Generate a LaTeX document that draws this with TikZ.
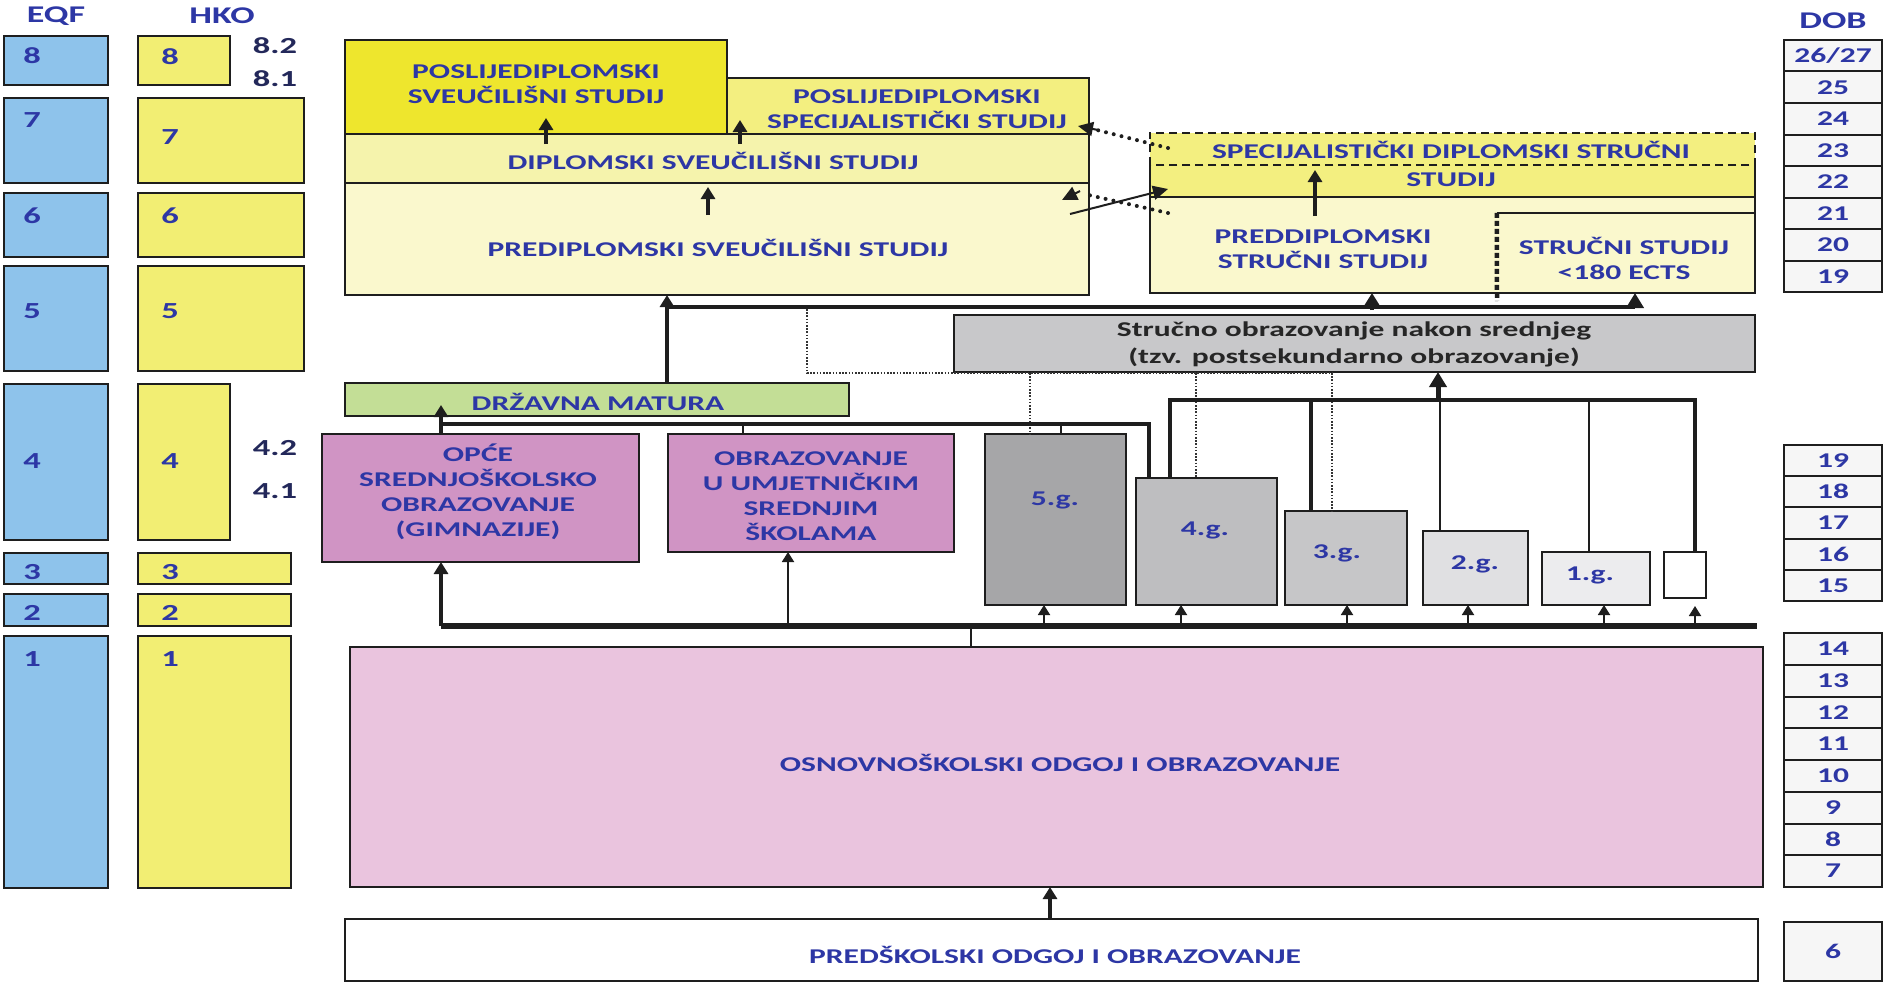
\documentclass[tikz,border=0pt]{standalone}
\usepackage{fontspec}
\setmainfont{Carlito}[FakeStretch=1.5]
\usetikzlibrary{arrows.meta,fit}
\definecolor{tblue}{RGB}{45,55,165}
\definecolor{eqfblue}{RGB}{142,195,235}
\definecolor{hkoy}{RGB}{242,238,115}
\definecolor{ybright}{RGB}{238,230,45}
\definecolor{ymid}{RGB}{243,239,128}
\definecolor{ylight}{RGB}{245,243,172}
\definecolor{ypale}{RGB}{250,248,205}
\definecolor{gbox}{RGB}{200,200,202}
\definecolor{dmgreen}{RGB}{195,222,150}
\definecolor{pinkd}{RGB}{208,148,196}
\definecolor{pinkl}{RGB}{234,196,222}
\definecolor{gfive}{RGB}{166,166,168}
\definecolor{gfour}{RGB}{190,190,192}
\definecolor{gthree}{RGB}{198,198,200}
\definecolor{gtwo}{RGB}{224,224,226}
\definecolor{gone}{RGB}{236,236,238}
\definecolor{dobf}{RGB}{246,246,246}
\definecolor{navy}{RGB}{35,40,90}
\definecolor{ln}{RGB}{30,30,30}
\newcommand\mybox[6][]{\node[box,#1,fit={(#3,#4)(#5,#6)}] (#2) {};}
\begin{document}
\begin{tikzpicture}[x=1pt,y=-1pt,
 box/.style={draw=ln, line width=2pt, inner sep=0pt, outer sep=0pt},
 tx/.style={font=\fontsize{21}{25}\selectfont\bfseries, text=tblue, align=center, inner sep=0pt},
 gtx/.style={font=\fontsize{21}{27}\selectfont\bfseries, text=black!85, align=center, inner sep=0pt},
 num/.style={font=\fontsize{23}{26}\selectfont\bfseries, text=tblue, inner sep=0pt},
 sidelab/.style={font=\fontsize{23}{26}\selectfont\bfseries, text=navy, inner sep=0pt},
 thk/.style={draw=ln, line width=3.5pt},
 thn/.style={draw=ln, line width=1.8pt},
 busln/.style={draw=ln, line width=6pt},
 atip/.style={-{Triangle[length=12pt,width=14pt]}},
 stip/.style={-{Triangle[length=10pt,width=12pt]}},
 btip/.style={-{Triangle[length=15pt,width=17pt]}},
 fdot/.style={draw=black!80, line width=2.4pt, dash pattern=on 1.6pt off 1.6pt},
 rdot/.style={draw=ln, line width=4pt, line cap=round, dash pattern=on 0pt off 8pt},
]
\useasboundingbox (0,0) rectangle (1885,982);
\fill[white] (0,0) rectangle (1885,982);

% ---------- EQF / HKO columns ----------
\node[tx,font=\fontsize{24}{26}\selectfont\bfseries] (heqf) at (56,16) {EQF};
\node[tx,font=\fontsize{24}{26}\selectfont\bfseries] (hhko) at (222,16) {HKO};
\node[tx,font=\fontsize{24}{26}\selectfont\bfseries] (hdob) at (1833,21) {DOB};

\mybox[fill=eqfblue]{e8}{4}{36}{108}{85}
\mybox[fill=eqfblue]{e7}{4}{98}{108}{183}
\mybox[fill=eqfblue]{e6}{4}{193}{108}{257}
\mybox[fill=eqfblue]{e5}{4}{266}{108}{371}
\mybox[fill=eqfblue]{e4}{4}{384}{108}{540}
\mybox[fill=eqfblue]{e3}{4}{553}{108}{584}
\mybox[fill=eqfblue]{e2}{4}{594}{108}{626}
\mybox[fill=eqfblue]{e1}{4}{636}{108}{888}
\mybox[fill=hkoy]{h8}{138}{36}{230}{85}
\mybox[fill=hkoy]{h7}{138}{98}{304}{183}
\mybox[fill=hkoy]{h6}{138}{193}{304}{257}
\mybox[fill=hkoy]{h5}{138}{266}{304}{371}
\mybox[fill=hkoy]{h4}{138}{384}{230}{540}
\mybox[fill=hkoy]{h3}{138}{553}{291}{584}
\mybox[fill=hkoy]{h2}{138}{594}{291}{626}
\mybox[fill=hkoy]{h1}{138}{636}{291}{888}
\foreach \n/\yy in {8/56,7/120,6/216,5/311,4/461,3/572,2/613,1/659}
  \node[num] (le\n) at (32,\yy) {\n};
\foreach \n/\yy in {8/57,7/137,6/216,5/311,4/461,3/572,2/613,1/659}
  \node[num] (lh\n) at (170,\yy) {\n};
\node[sidelab] (s82) at (275,46) {8.2};
\node[sidelab] (s81) at (275,79) {8.1};
\node[sidelab] (s42) at (275,448) {4.2};
\node[sidelab] (s41) at (275,491) {4.1};

% ---------- DOB column ----------
\foreach \dl [count=\i from 0] in {{26/27},25,24,23,22,21,20,19}
  \node[box,fill=dobf,minimum width=98pt,minimum height=31.5pt,anchor=north west,tx] (da\i) at (1784,40+31.5*\i) {\dl};
\foreach \dl [count=\i from 0] in {19,18,17,16,15}
  \node[box,fill=dobf,minimum width=98pt,minimum height=31.2pt,anchor=north west,tx] (db\i) at (1784,445+31.2*\i) {\dl};
\foreach \dl [count=\i from 0] in {14,13,12,11,10,9,8,7}
  \node[box,fill=dobf,minimum width=98pt,minimum height=31.75pt,anchor=north west,tx] (dc\i) at (1784,633+31.75*\i) {\dl};
\node[box,fill=dobf,minimum width=98pt,minimum height=59pt,anchor=north west,tx] (dd0) at (1784,922) {6};

% ---------- university block ----------
\mybox[fill=ybright]{psu}{345}{40}{727}{134}
\mybox[fill=ymid]{pss}{727}{78}{1089}{134}
\mybox[fill=ylight]{dss}{345}{134}{1089}{183}
\mybox[fill=ypale]{pres}{345}{183}{1089}{295}
\node[tx] (tpsu) at (536,84) {POSLIJEDIPLOMSKI\\SVEUČILIŠNI STUDIJ};
\node[tx] (tpss) at (917,109) {POSLIJEDIPLOMSKI\\SPECIJALISTIČKI STUDIJ};
\node[tx] (tdss) at (713,161) {DIPLOMSKI SVEUČILIŠNI STUDIJ};
\node[tx] (tpres) at (718,248) {PREDIPLOMSKI SVEUČILIŠNI STUDIJ};
\draw[thk,atip] (546,144) -- (546,118);
\draw[thk,atip] (740,144) -- (740,120);
\draw[thk,atip] (708,215) -- (708,187);

% ---------- professional block ----------
\node[fit={(1150,133)(1755,165)},inner sep=0pt,fill=ymid] (sdsu) {};
\node[fit={(1150,165)(1755,197)},inner sep=0pt,fill=ymid] (sdsl) {};
\draw[draw=ln,line width=2pt,dash pattern=on 8pt off 5pt] (sdsu.south west) rectangle (sdsu.north east);
\draw[draw=ln,line width=2pt] (sdsl.north west) -- (sdsl.south west) -- (sdsl.south east) -- (sdsl.north east);
\mybox[fill=ypale]{pst}{1150}{197}{1755}{293}
\node[fit={(1497,213)(1755,293)},inner sep=0pt] (ss) {};
\draw[draw=ln,line width=2pt] (ss.north west) -- (ss.north east);
\coordinate (ssb) at (1497,301);
\draw[draw=ln,line width=4.5pt,dash pattern=on 5pt off 3pt] (ss.north west) -- (ssb);
\node[tx] (tsds) at (1451,150) {SPECIJALISTIČKI DIPLOMSKI STRUČNI};
\node[tx] (tsdl) at (1451,180) {STUDIJ};
\node[tx] (tpst) at (1323,249) {PREDDIPLOMSKI\\STRUČNI STUDIJ};
\node[tx] (tss) at (1624,258) {STRUČNI STUDIJ\\<180 ECTS};
\draw[thk,atip] (1315,216) -- (1315,170);

% cross links
\draw[rdot] (1168,148) -- (1097,130);
\draw[draw=ln,line width=2pt,-{Triangle[length=15pt,width=14pt]}] (1098,130) -- (1078,126);
\draw[rdot] (1168,213) -- (1084,194);
\draw[draw=ln,line width=2pt,-{Triangle[length=15pt,width=14pt]}] (1080,191) -- (1062,200);
\draw[draw=ln,line width=2pt,-{Triangle[length=15pt,width=14pt]}] (1070,214) -- (1168,189);

% ---------- post-secondary grey box ----------
\mybox[fill=gbox]{gs}{954}{315}{1755}{372}
\node[gtx] (tgs) at (1354,344) {Stručno obrazovanje nakon srednjeg\\(tzv. postsekundarno obrazovanje)};

% ---------- top bus ----------
\mybox[fill=dmgreen]{dm}{345}{383}{849}{416}
\node[tx] (tdm) at (598,402) {DRŽAVNA MATURA};
\coordinate (tb1) at (667,307);
\coordinate (tb2) at (1635,307);
\draw[thk,atip] (667,0 |- dm.north) -- (667,0 |- pres.south);
\draw[thk] (tb1) -- (tb2);
\draw[draw=ln,line width=5pt,btip] (tb2) -- (1635,0 |- pst.south);
\draw[thk,atip] (1372,310) -- (1372,0 |- pst.south);

% dotted routes from the grey box
\coordinate (dv1) at (807,309);
\coordinate (dv2) at (807,373);
\coordinate (dv3) at (1333,373);
\draw[fdot] (dv1) -- (dv2) -- (dv3);

% ---------- secondary schools ----------
\mybox[fill=pinkd]{opce}{322}{434}{639}{562}
\mybox[fill=pinkd]{umj}{668}{434}{954}{552}
\node[tx] (topce) at (478,492) {OPĆE\\SREDNJOŠKOLSKO\\OBRAZOVANJE\\(GIMNAZIJE)};
\node[tx] (tumj) at (811,496) {OBRAZOVANJE\\U UMJETNIČKIM\\SREDNJIM\\ŠKOLAMA};
\mybox[fill=gfive]{gf}{985}{434}{1126}{605}
\mybox[fill=gfour]{gv}{1136}{478}{1277}{605}
\mybox[fill=gthree]{gt}{1285}{511}{1407}{605}
\mybox[fill=gtwo]{gw}{1423}{531}{1528}{605}
\mybox[fill=gone]{go}{1542}{552}{1650}{605}
\mybox[fill=white]{gz}{1664}{552}{1706}{598}
\node[tx] (tgf) at (1055,500) {5.g.};
\node[tx] (tgv) at (1205,530) {4.g.};
\node[tx] (tgt) at (1337,553) {3.g.};
\node[tx] (tgw) at (1475,564) {2.g.};
\node[tx] (tgo) at (1590,575) {1.g.};

% dotted verticals
\draw[fdot] (1030,373) -- (1030,0 |- gf.north);
\draw[fdot] (1196,373) -- (1196,0 |- gv.north);
\draw[fdot] (1332,373) -- (1332,0 |- gt.north);

% bus A (matura)
\coordinate (ba1) at (441,424);
\coordinate (ba2) at (1149,424);
\draw[draw=ln,line width=4.5pt] (ba1) -- (ba2) -- (1149,0 |- gv.north);
\draw[thk,atip] (ba1) -- (441,405);
\draw[thk] (ba1) -- (441,0 |- opce.north);
\draw[thn] (743,424) -- (743,0 |- umj.north);
\draw[thn] (1061,424) -- (1061,0 |- gf.north);

% bus B (post-secondary)
\coordinate (bb1) at (1170,400);
\coordinate (bb2) at (1695,400);
\draw[thk] (1170,0 |- gv.north) -- (bb1) -- (bb2) -- (1695,0 |- gz.north);
\draw[thk] (1311,400) -- (1311,0 |- gt.north);
\draw[thn] (1440,0 |- gw.north) -- (1440,400);
\draw[draw=ln,line width=5pt,btip] (1438,401) -- (1438,0 |- gs.south);
\draw[thn] (1589,0 |- go.north) -- (1589,400);

% bottom bus
\coordinate (bc1) at (441,626);
\coordinate (bc2) at (1757,626);
\draw[busln] (bc1) -- (bc2);
\draw[thk,atip] (441,626) -- (441,0 |- opce.south);
\draw[thn,stip] (788,624) -- (788,0 |- umj.south);
\foreach \nd/\xx in {gf/1044,gv/1181,gt/1347,gw/1468,go/1604}
  \draw[thn,stip] (\xx,624) -- (\xx,0 |- \nd.south);
\draw[thn,stip] (1695,624) -- (1695,606);

% ---------- primary / pre-school ----------
\mybox[fill=pinkl]{osn}{350}{647}{1763}{887}
\node[tx] (tosn) at (1060,763) {OSNOVNOŠKOLSKI ODGOJ I OBRAZOVANJE};
\draw[thn] (971,626) -- (971,0 |- osn.north);
\mybox[fill=white]{presk}{345}{919}{1758}{981}
\node[tx] (tpresk) at (1055,955) {PREDŠKOLSKI ODGOJ I OBRAZOVANJE};
\draw[thk,atip] (1050,0 |- presk.north) -- (1050,0 |- osn.south);
\end{tikzpicture}
\end{document}
